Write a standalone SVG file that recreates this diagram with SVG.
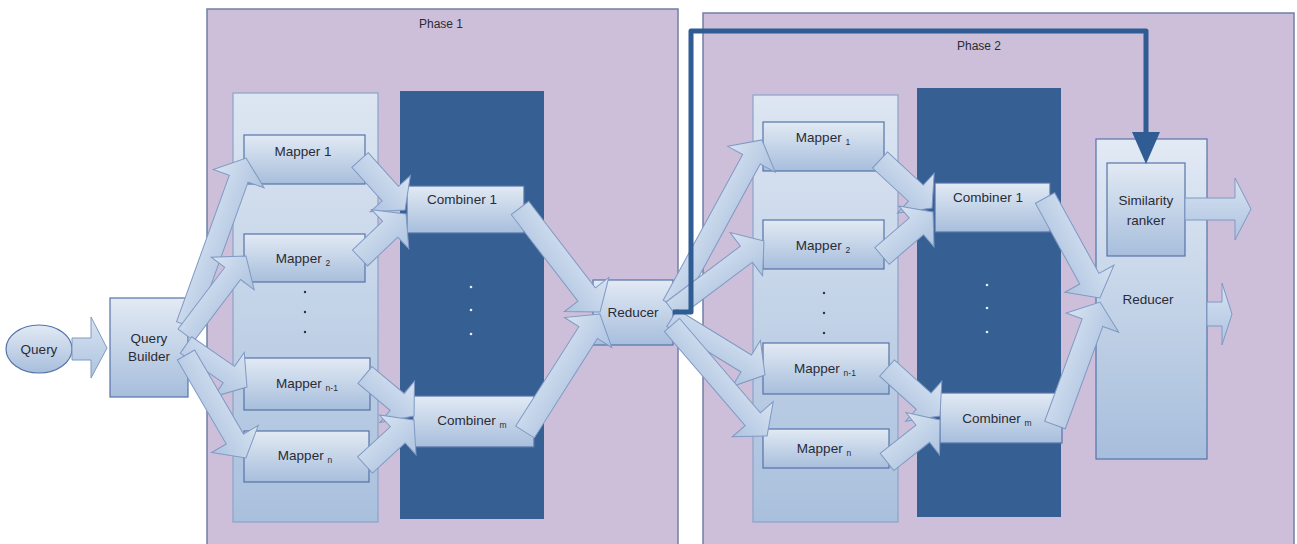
<svg xmlns="http://www.w3.org/2000/svg" width="1297" height="544" viewBox="0 0 1297 544">
<defs>
<linearGradient id="gBox" x1="0" y1="0" x2="0" y2="1"><stop offset="0" stop-color="#e2eaf4"/><stop offset="1" stop-color="#a7bedc"/></linearGradient>
<linearGradient id="gCol" x1="0" y1="0" x2="0" y2="1"><stop offset="0" stop-color="#dde6f2"/><stop offset="1" stop-color="#a9c0dd"/></linearGradient>
<linearGradient id="gArr" x1="0" y1="0" x2="0" y2="1"><stop offset="0" stop-color="#d8e3f1"/><stop offset="1" stop-color="#adc3e0"/></linearGradient>
<style>
.phase{fill:#cdbfda;stroke:#6f7fa6;stroke-width:1.5}
.col{fill:url(#gCol);stroke:#8ba3c9;stroke-width:1.2}
.dark{fill:#365f93}
.box{fill:url(#gBox);stroke:#5673a8;stroke-width:1.2}
.arr{fill:url(#gArr);stroke:#7f99c3;stroke-width:1}
.t{font-family:"Liberation Sans",Arial,sans-serif;font-size:13.5px;fill:#2b2b35;text-anchor:middle}
.ph{font-family:"Liberation Sans",Arial,sans-serif;font-size:12px;fill:#2b2b35;text-anchor:middle}
.sub{font-size:8.5px}
.dot{fill:#333}
.wdot{fill:#e8eef7}
.fb{fill:none;stroke:#2f5d93;stroke-width:5;stroke-linejoin:round}
</style>
</defs>

<g id="phase1">
<rect class="phase" x="207" y="9" width="471" height="545"/>
<text class="ph" x="441" y="28">Phase 1</text>
</g>
<g id="phase2">
<rect class="phase" x="703" y="13" width="591" height="545"/>
<text class="ph" x="979" y="50">Phase 2</text>
</g>

<g id="mapcol1"><rect class="col" x="233" y="93" width="145" height="429"/>
<circle class="dot" cx="305" cy="292" r="1.2"/><circle class="dot" cx="305" cy="312" r="1.2"/><circle class="dot" cx="305" cy="332" r="1.2"/></g>
<g id="combcol1"><rect class="dark" x="400" y="91" width="144" height="428"/>
<circle class="wdot" cx="471" cy="287" r="1.3"/><circle class="wdot" cx="471" cy="310" r="1.3"/><circle class="wdot" cx="471" cy="334" r="1.3"/></g>
<g id="mapcol2"><rect class="col" x="753" y="95" width="145" height="427"/>
<circle class="dot" cx="824" cy="293" r="1.2"/><circle class="dot" cx="824" cy="313" r="1.2"/><circle class="dot" cx="824" cy="333" r="1.2"/></g>
<g id="combcol2"><rect class="dark" x="917" y="88" width="144" height="429"/>
<circle class="wdot" cx="987" cy="285" r="1.3"/><circle class="wdot" cx="987" cy="308" r="1.3"/><circle class="wdot" cx="987" cy="332" r="1.3"/></g>

<g id="query"><ellipse class="box" cx="39" cy="349" rx="33" ry="24"/><text class="t" x="39" y="354">Query</text></g>
<g id="querybuilder"><rect class="box" x="110" y="298" width="78" height="99"/><text class="t" x="149" y="343">Query</text><text class="t" x="149" y="361">Builder</text></g>

<g id="p1-mapper1"><rect class="box" x="244" y="135" width="121" height="49"/><text class="t" x="303" y="156">Mapper 1</text></g>
<g id="p1-mapper2"><rect class="box" x="244" y="234" width="121" height="48"/><text class="t" x="303" y="263">Mapper <tspan class="sub" dy="3">2</tspan></text></g>
<g id="p1-mappern1"><rect class="box" x="244" y="358" width="126" height="52"/><text class="t" x="307" y="388">Mapper <tspan class="sub" dy="3">n-1</tspan></text></g>
<g id="p1-mappern"><rect class="box" x="244" y="431" width="125" height="51"/><text class="t" x="305" y="460">Mapper <tspan class="sub" dy="3">n</tspan></text></g>
<g id="p1-combiner1"><rect class="box" x="407" y="186" width="117" height="47"/><text class="t" x="462" y="204">Combiner 1</text></g>
<g id="p1-combinerm"><rect class="box" x="413" y="396" width="121" height="51"/><text class="t" x="472" y="425">Combiner <tspan class="sub" dy="3">m</tspan></text></g>
<g id="p1-reducer"><rect class="box" x="593" y="280" width="80" height="65"/><text class="t" x="633" y="317">Reducer</text></g>

<g id="p2-mapper1"><rect class="box" x="763" y="122" width="121" height="49"/><text class="t" x="823" y="142">Mapper <tspan class="sub" dy="3">1</tspan></text></g>
<g id="p2-mapper2"><rect class="box" x="763" y="220" width="121" height="49"/><text class="t" x="823" y="250">Mapper <tspan class="sub" dy="3">2</tspan></text></g>
<g id="p2-mappern1"><rect class="box" x="763" y="343" width="126" height="51"/><text class="t" x="825" y="373">Mapper <tspan class="sub" dy="3">n-1</tspan></text></g>
<g id="p2-mappern"><rect class="box" x="763" y="429" width="126" height="39"/><text class="t" x="824" y="453">Mapper <tspan class="sub" dy="3">n</tspan></text></g>
<g id="p2-combiner1"><rect class="box" x="935" y="183" width="115" height="49"/><text class="t" x="988" y="202">Combiner 1</text></g>
<g id="p2-combinerm"><rect class="box" x="940" y="393" width="122" height="50"/><text class="t" x="997" y="423">Combiner <tspan class="sub" dy="3">m</tspan></text></g>
<g id="p2-reducer"><rect class="box" x="1096" y="139" width="111" height="320"/><text class="t" x="1148" y="304">Reducer</text></g>
<g id="p2-ranker"><rect class="box" x="1107" y="163" width="78" height="93"/><text class="t" x="1146" y="205">Similarity</text><text class="t" x="1146" y="225">ranker</text></g>

<g id="connectors">
<polygon class="arr" points="72,338 91,338 91,317 107,348 91,378 91,360 72,360"/>
<g transform="translate(186,325) rotate(-70.2)"><path class="arr" d="M0,-10 H155.5 V-27 L177.5,0 L155.5,27 V10 H0 Z"/></g>
<g transform="translate(186,335) rotate(-52.8)"><path class="arr" d="M0,-10 H77.2 V-27 L99.2,0 L77.2,27 V10 H0 Z"/></g>
<g transform="translate(186,345) rotate(34.6)"><path class="arr" d="M0,-10 H52.1 V-27 L74.1,0 L52.1,27 V10 H0 Z"/></g>
<g transform="translate(186,355) rotate(59.8)"><path class="arr" d="M0,-10 H97.2 V-27 L119.2,0 L97.2,27 V10 H0 Z"/></g>

<g transform="translate(360,160) rotate(48)"><path class="arr" d="M0,-11 H45.3 V-27 L67.3,0 L45.3,27 V11 H0 Z"/></g>
<g transform="translate(360,258) rotate(-43.7)"><path class="arr" d="M0,-11 H41.7 V-27 L63.7,0 L41.7,27 V11 H0 Z"/></g>
<g transform="translate(365,375) rotate(39.9)"><path class="arr" d="M0,-11 H41.9 V-27 L63.9,0 L41.9,27 V11 H0 Z"/></g>
<g transform="translate(365,465) rotate(-42.6)"><path class="arr" d="M0,-11 H44.5 V-27 L66.5,0 L44.5,27 V11 H0 Z"/></g>

<g transform="translate(520,208) rotate(52.4)"><path class="arr" d="M0,-11 H109.2 V-28 L131.2,0 L109.2,28 V11 H0 Z"/></g>
<g transform="translate(525,432) rotate(-57.6)"><path class="arr" d="M0,-11 H117.8 V-28 L139.8,0 L117.8,28 V11 H0 Z"/></g>

<g transform="translate(672,305) rotate(-61.4)"><path class="arr" d="M0,-10 H166 V-27 L188,0 L166,27 V10 H0 Z"/></g>
<g transform="translate(672,310) rotate(-36.9)"><path class="arr" d="M0,-10 H93 V-27 L115,0 L93,27 V10 H0 Z"/></g>
<g transform="translate(672,318) rotate(31.5)"><path class="arr" d="M0,-10 H87.1 V-27 L109.1,0 L87.1,27 V10 H0 Z"/></g>
<g transform="translate(672,325) rotate(49.4)"><path class="arr" d="M0,-10 H124.1 V-27 L146.1,0 L124.1,27 V10 H0 Z"/></g>

<g transform="translate(880,160) rotate(42.7)"><path class="arr" d="M0,-11 H48.8 V-27 L70.8,0 L48.8,27 V11 H0 Z"/></g>
<g transform="translate(882,256) rotate(-40.8)"><path class="arr" d="M0,-11 H45.4 V-27 L67.4,0 L45.4,27 V11 H0 Z"/></g>
<g transform="translate(887,368) rotate(42.2)"><path class="arr" d="M0,-11 H49.5 V-27 L71.5,0 L49.5,27 V11 H0 Z"/></g>
<g transform="translate(887,462) rotate(-38.4)"><path class="arr" d="M0,-11 H45.6 V-27 L67.6,0 L45.6,27 V11 H0 Z"/></g>

<g transform="translate(1045,198) rotate(61.2)"><path class="arr" d="M0,-11 H92.1 V-28 L114.1,0 L92.1,28 V11 H0 Z"/></g>
<g transform="translate(1055,425) rotate(-69.9)"><path class="arr" d="M0,-11 H109 V-28 L131,0 L109,28 V11 H0 Z"/></g>

<polygon class="arr" points="1185,198 1235,198 1235,178 1251,209 1235,240 1235,220 1185,220"/>
<polygon class="arr" points="1207,302 1222,302 1222,283 1232,314 1222,345 1222,326 1207,326"/>

<path class="fb" d="M673,312 H691 V31 H1146 V134"/>
<polygon fill="#2f5d93" points="1132,132 1160,132 1146,164"/>
</g>
</svg>
